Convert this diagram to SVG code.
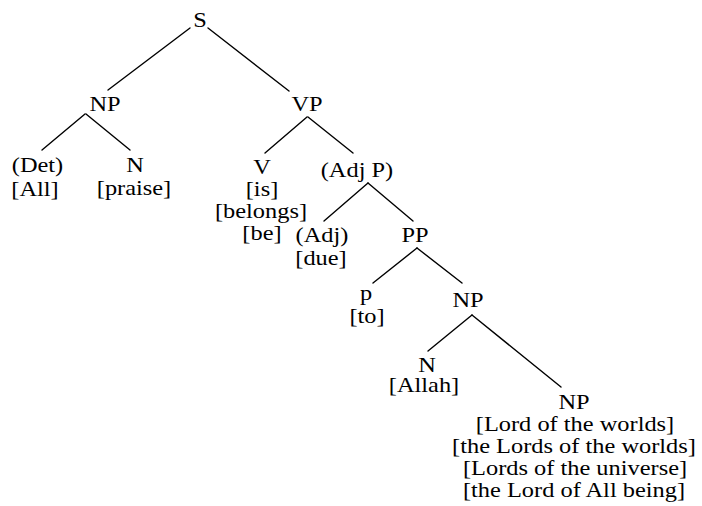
<svg xmlns="http://www.w3.org/2000/svg" width="702" height="506" viewBox="0 0 702 506">
<style>
text{font-family:"Liberation Serif","Times New Roman",serif;font-size:20px;fill:#000;text-anchor:middle}
line{stroke:#000;stroke-width:1.4;stroke-linecap:round}
</style>
<rect width="702" height="506" fill="#fff"/>
<g id="connectors">
<line x1="190" y1="28" x2="108" y2="90"/>
<line x1="208" y1="28" x2="289" y2="91"/>
<line x1="85" y1="114" x2="42" y2="150"/>
<line x1="86" y1="114" x2="130" y2="150"/>
<line x1="307" y1="117" x2="265" y2="153"/>
<line x1="308" y1="117" x2="353" y2="153"/>
<line x1="368" y1="183" x2="324" y2="221"/>
<line x1="368" y1="183" x2="413" y2="221"/>
<line x1="417" y1="248" x2="373" y2="283"/>
<line x1="417" y1="248" x2="462" y2="283"/>
<line x1="472" y1="315" x2="428" y2="351"/>
<line x1="472" y1="315" x2="561" y2="387"/>
</g>
<g id="S"><text transform="translate(200,27) scale(1.22,1)">S</text></g>
<g id="NP1"><text transform="translate(105,111) scale(1.22,1)">NP</text></g>
<g id="VP"><text transform="translate(307,111) scale(1.22,1)">VP</text></g>
<g id="Det"><text transform="translate(37.5,171.5) scale(1.22,1)">(Det)</text><text transform="translate(35,195.5) scale(1.22,1)">[All]</text></g>
<g id="N1"><text transform="translate(135,172) scale(1.22,1)">N</text><text transform="translate(134,195) scale(1.22,1)">[praise]</text></g>
<g id="V"><text transform="translate(262,174) scale(1.22,1)">V</text><text transform="translate(262,195.5) scale(1.22,1)">[is]</text><text transform="translate(261,217.5) scale(1.22,1)">[belongs]</text><text transform="translate(262,239.5) scale(1.22,1)">[be]</text></g>
<g id="AdjP"><text transform="translate(357,177) scale(1.22,1)">(Adj P)</text></g>
<g id="Adj"><text transform="translate(322,242) scale(1.22,1)">(Adj)</text><text transform="translate(321,265) scale(1.22,1)">[due]</text></g>
<g id="PP"><text transform="translate(415,241.5) scale(1.22,1)">PP</text></g>
<g id="p"><text transform="translate(366,299.5) scale(1.22,1)">p</text><text transform="translate(367,323) scale(1.22,1)">[to]</text></g>
<g id="NP2"><text transform="translate(468,307) scale(1.22,1)">NP</text></g>
<g id="N2"><text transform="translate(427,371.5) scale(1.22,1)">N</text><text transform="translate(424,392) scale(1.22,1)">[Allah]</text></g>
<g id="NP3"><text transform="translate(574,409) scale(1.22,1)">NP</text><text transform="translate(575,431) scale(1.22,1)">[Lord of the worlds]</text><text transform="translate(574,453) scale(1.22,1)">[the Lords of the worlds]</text><text transform="translate(575,475) scale(1.22,1)">[Lords of the universe]</text><text transform="translate(574,497) scale(1.22,1)">[the Lord of All being]</text></g>
</svg>
